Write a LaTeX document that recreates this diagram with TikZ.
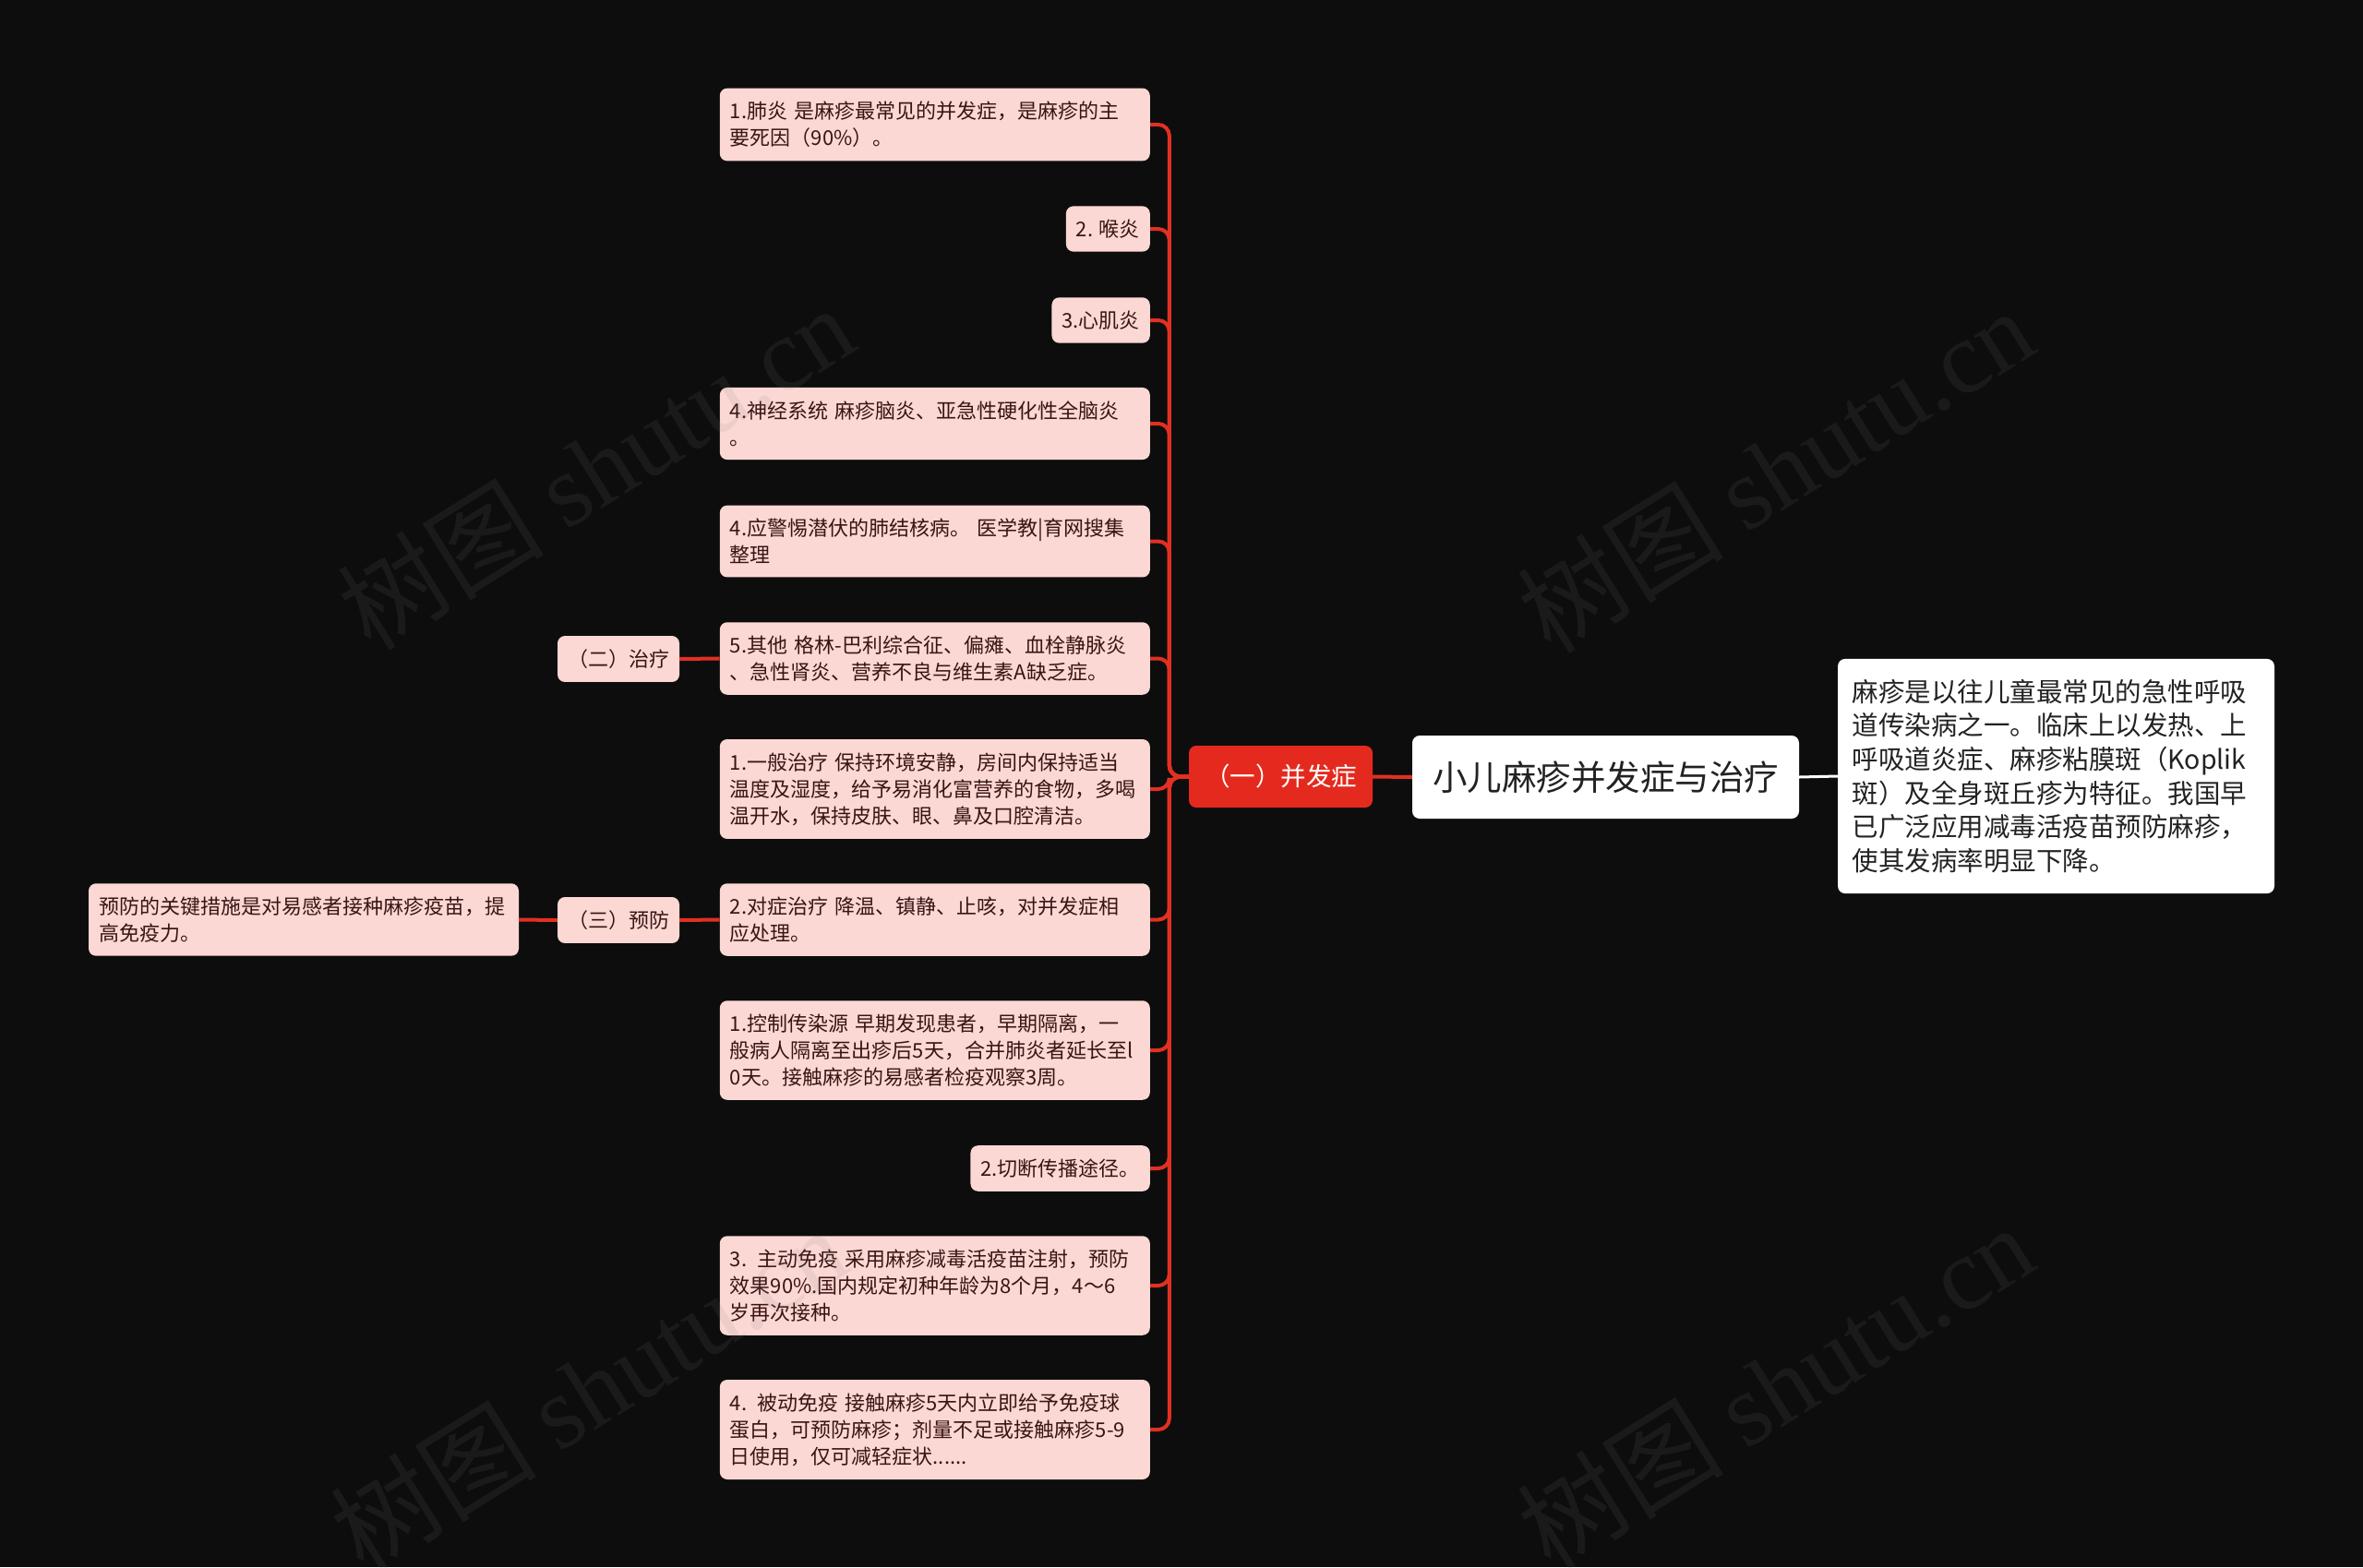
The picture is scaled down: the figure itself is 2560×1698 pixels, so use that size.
\documentclass[tikz,border=0pt]{standalone}
\usepackage{fontspec}
\setmainfont{Noto Sans CJK SC}
\newfontfamily\markserif{Liberation Serif}
\usetikzlibrary{positioning}
\definecolor{bgdark}{RGB}{13,13,13}
\definecolor{pinkfill}{RGB}{252,216,212}
\definecolor{darktext}{RGB}{58,20,20}
\definecolor{branchred}{RGB}{226,48,34}
\definecolor{redfill}{RGB}{228,42,30}
\definecolor{inktext}{RGB}{34,34,34}

\begin{document}
\begin{tikzpicture}[x=1pt,y=-1pt,
			leaf/.style={fill=pinkfill, text=darktext, rounded corners=8pt, inner xsep=11pt, inner ysep=14.5pt, font=\fontsize{22}{29}\selectfont, anchor=east},
			wideleaf/.style={leaf, text width=444pt, align=left},
			side/.style={leaf, anchor=center},
			branch/.style={draw=branchred, line width=4pt, rounded corners=12pt},
			watermark/.style={rotate=32, text=gray, opacity=0.12, font=\fontsize{112}{120}\selectfont}]
			% Canvas
			\useasboundingbox (0,0) rectangle (2560,1698);
			\fill[bgdark] (0,0) rectangle (2560,1698);
			
			% Root and its summary
			\node[fill=white, text=inktext, rounded corners=8pt, font=\fontsize{37.5}{44}\selectfont, minimum width=419pt, minimum height=90pt] (root) at (1739.5,842) {小儿麻疹并发症与治疗};
			\node[fill=white, text=inktext, rounded corners=8pt, font=\fontsize{28.5}{36.7}\selectfont, text width=442pt, align=left, inner xsep=15.5pt, inner ysep=22pt] (summary) at (2227.5,841) {麻疹是以往儿童最常见的急性呼吸\\道传染病之一。临床上以发热、上\\呼吸道炎症、麻疹粘膜斑（Koplik\\斑）及全身斑丘疹为特征。我国早\\已广泛应用减毒活疫苗预防麻疹，\\使其发病率明显下降。};
			
			% Main branch
			\node[fill=redfill, text=white, rounded corners=8pt, font=\fontsize{27.5}{32}\selectfont, minimum width=199pt, minimum height=67pt] (bing) at (1387.5,841.5) {（一）并发症};
			
			% Complications
			\node[wideleaf] (c1) at (1246,135) {1.肺炎 是麻疹最常见的并发症，是麻疹的主\\要死因（90\%）。};
			\node[leaf] (c2) at (1246,248) {2. 喉炎};
			\node[leaf] (c3) at (1246,347) {3.心肌炎};
			\node[wideleaf] (c4) at (1246,459) {4.神经系统 麻疹脑炎、亚急性硬化性全脑炎\\。};
			\node[wideleaf] (c5) at (1246,586.5) {4.应警惕潜伏的肺结核病。 医学教|育网搜集\\整理};
			\node[wideleaf] (c6) at (1246,713.5) {5.其他 格林-巴利综合征、偏瘫、血栓静脉炎\\、急性肾炎、营养不良与维生素A缺乏症。};
			
			% Treatment
			\node[wideleaf] (t1) at (1246,855) {1.一般治疗 保持环境安静，房间内保持适当\\温度及湿度，给予易消化富营养的食物，多喝\\温开水，保持皮肤、眼、鼻及口腔清洁。};
			\node[wideleaf] (t2) at (1246,996.5) {2.对症治疗 降温、镇静、止咳，对并发症相\\应处理。};
			
			% Prevention
			\node[wideleaf] (p1) at (1246,1138) {1.控制传染源 早期发现患者，早期隔离，一\\般病人隔离至出疹后5天，合并肺炎者延长至l\\0天。接触麻疹的易感者检疫观察3周。};
			\node[leaf] (p2) at (1246,1266) {2.切断传播途径。};
			\node[wideleaf] (p3) at (1246,1393) {3. 主动免疫 采用麻疹减毒活疫苗注射，预防\\效果90\%.国内规定初种年龄为8个月，4～6\\岁再次接种。};
			\node[wideleaf] (p4) at (1246,1549) {4. 被动免疫 接触麻疹5天内立即给予免疫球\\蛋白，可预防麻疹；剂量不足或接触麻疹5-9\\日使用，仅可减轻症状......};
			
			% Side labels
			\node[side] (zhiliao) at (670,714) {（二）治疗};
			\node[side] (yufang) at (670,997) {（三）预防};
			\node[wideleaf, anchor=center] (guanjian) at (329,996.5) {预防的关键措施是对易感者接种麻疹疫苗，提\\高免疫力。};
			
			% Connectors
			\draw[branchred, line width=4pt] (root.west) -- (bing.east);
			\draw[white, line width=3pt] (root.east) -- (summary.west);
			\foreach \leafname in {c1,c2,c3,c4,c5,c6,t1,t2,p1,p2,p3,p4}
				\draw[branch] (bing.west) -- ++(-21,0) |- (\leafname.east);
			\draw[branch] (zhiliao.east) -- (c6.west);
			\draw[branch] (yufang.east) -- (t2.west);
			\draw[branch] (guanjian.east) -- (yufang.west);
			
			% Watermarks
			\node[watermark] at (645,506) {树图 {\markserif shutu.cn}};
			\node[watermark] at (1923,509) {树图 {\markserif shutu.cn}};
			\node[watermark] at (637,1505) {树图 {\markserif shutu.cn}};
			\node[watermark] at (1923,1502) {树图 {\markserif shutu.cn}};
		\end{tikzpicture}
\end{document}
